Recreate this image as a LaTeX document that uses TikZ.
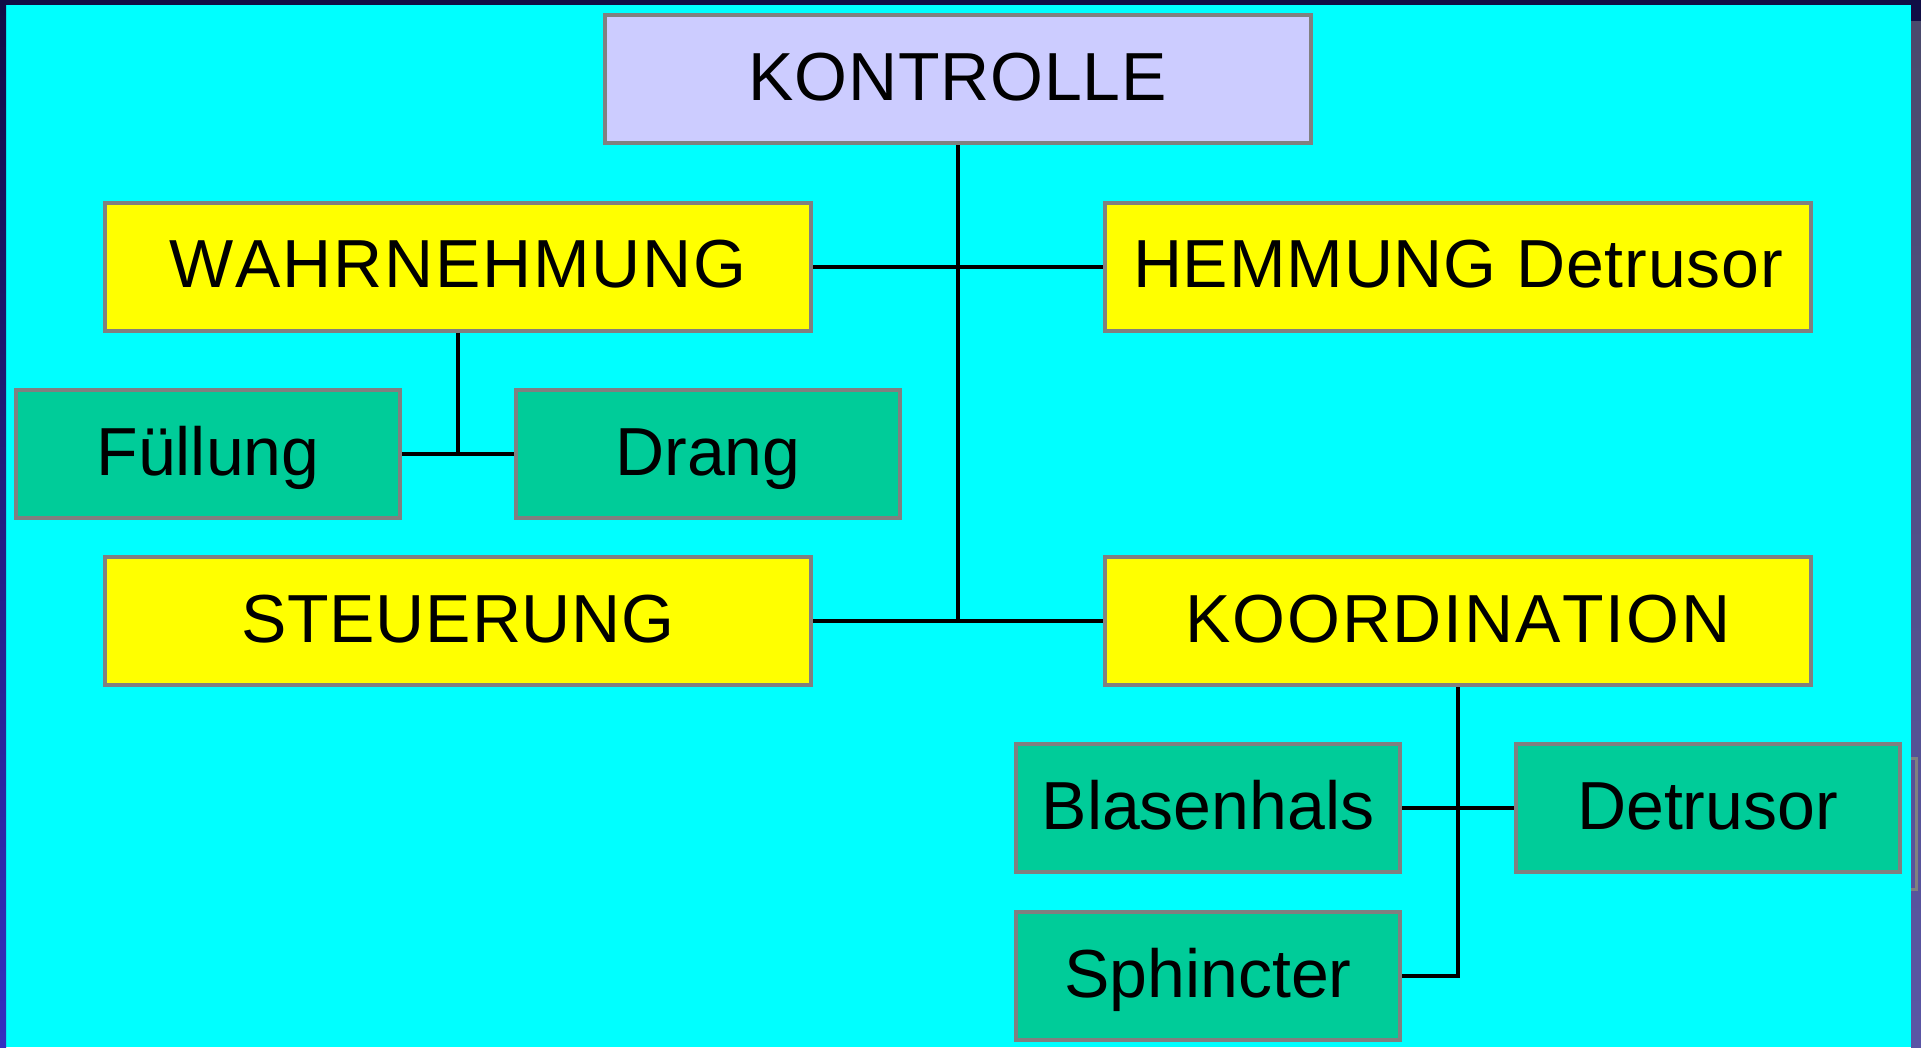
\documentclass[tikz,border=0pt]{standalone}
\usepackage{fontspec}
\setmainfont[Kerning=Off]{Liberation Sans}
\newfontfamily\spacedA[Kerning=Off,LetterSpace=2.6]{Liberation Sans}
\newfontfamily\spacedB[Kerning=Off,LetterSpace=1.2]{Liberation Sans}
\definecolor{bggreen}{HTML}{00FFFF}
\definecolor{boxgray}{HTML}{808080}
\definecolor{lav}{HTML}{CCCCFF}
\definecolor{yel}{HTML}{FFFF00}
\definecolor{grn}{HTML}{00CC99}
\definecolor{topdark}{HTML}{110E45}
\definecolor{leftbot}{HTML}{3430C0}
\definecolor{righttop}{HTML}{4A4A6C}
\definecolor{rightbot}{HTML}{5A55A5}
\begin{document}
\begin{tikzpicture}[x=1pt,y=-1pt,
  box/.style={draw=boxgray, line width=4pt, inner sep=0pt, minimum height=128pt,
    font=\fontsize{68}{80}\selectfont, text height=49pt, text depth=7pt},
  wide/.style={box, minimum width=706pt},
  small/.style={box, minimum width=384pt},
  wideA/.style={wide, font=\spacedA\fontsize{68}{80}\selectfont},
  wideB/.style={wide, font=\spacedB\fontsize{68}{80}\selectfont},
  conn/.style={draw=black, line width=4pt}]
\useasboundingbox (0,0) rectangle (1921,1047);
% background
\fill[bggreen] (0,0) rectangle (1921,1047);
\shade[top color=topdark, bottom color=leftbot] (0,0) rectangle (6,1047);
\fill[topdark] (0,0) rectangle (1921,5);
\fill[topdark] (1911,0) rectangle (1921,21);
\shade[top color=righttop, bottom color=rightbot] (1911,21) rectangle (1921,1047);
\draw[boxgray, line width=3pt] (1911,758.5) -- (1916.5,758.5) -- (1916.5,889.5) -- (1911,889.5);
% nodes
\node[wideB, fill=lav] (kon) at (957.5,79) {KONTROLLE};
\node[wideA, fill=yel] (wahr) at (458,266.5) {WAHRNEHMUNG};
\node[wideB, fill=yel] (hem) at (1458,266.5) {HEMMUNG Detrusor};
\node[small, fill=grn] (fuell) at (208,454) {Füllung};
\node[small, fill=grn] (drang) at (708,454) {Drang};
\node[wideB, fill=yel] (steu) at (458,621) {STEUERUNG};
\node[wideA, fill=yel] (koord) at (1458,621) {KOORDINATION};
\node[small, fill=grn] (blas) at (1208,808) {Blasenhals};
\node[small, fill=grn] (detr) at (1707.5,808) {Detrusor};
\node[small, fill=grn] (sph) at (1208,976) {Sphincter};
% connectors
\draw[conn] (kon.south) -- (kon.south |- steu.east);
\draw[conn] (wahr.east) -- (hem.west);
\draw[conn] (steu.east) -- (koord.west);
\draw[conn] (wahr.south) -- (wahr.south |- fuell.east);
\draw[conn] (fuell.east) -- (drang.west);
\draw[conn] (koord.south) |- (sph.east);
\draw[conn] (blas.east) -- (detr.west);
\end{tikzpicture}
\end{document}
